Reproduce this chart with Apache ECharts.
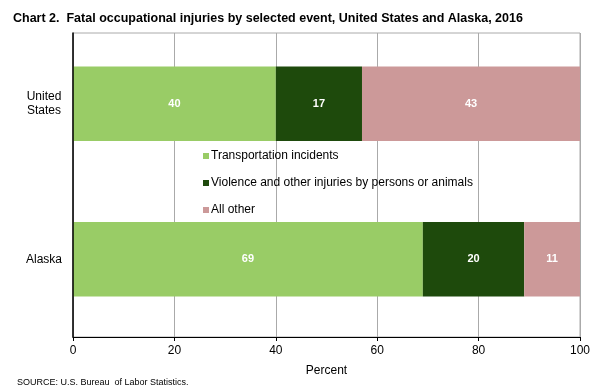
<!DOCTYPE html>
<html><head><meta charset="utf-8">
<script src="https://cdn.jsdelivr.net/npm/echarts@6/dist/echarts.min.js"></script>
<style>html,body{margin:0;padding:0;background:#fff}#c{width:600px;height:389px}</style>
</head><body><div id="c"></div>
<script>
const categories = ['United\nStates', 'Alaska'];
const seriesNames = ['Transportation incidents', 'Violence and other injuries by persons or animals', 'All other'];
const transportation = [40, 69];
const violence = [17, 20];
const allOther = [43, 11];
const xTicks = [0, 20, 40, 60, 80, 100];

const colors = ['#99cc66', '#1e4a0c', '#cc9999'];
const values = [transportation, violence, allOther];
const chart = echarts.init(document.getElementById('c'));
chart.setOption({
  animation: false,
  textStyle: {fontFamily: 'Arial, Liberation Sans, sans-serif'},
  title: [{
    text: 'Chart 2.  Fatal occupational injuries by selected event, United States and Alaska, 2016',
    left: 8, top: 7,
    textStyle: {fontSize: 12.5, fontWeight: 'bold', color: '#000', fontFamily: 'Liberation Sans Narrow, Arial, sans-serif'}
  }, {
    text: 'SOURCE: U.S. Bureau  of Labor Statistics.',
    left: 12, top: 373,
    textStyle: {fontSize: 9, fontWeight: 'normal', color: '#000'}
  }],
  legend: {
    orient: 'vertical', left: 198, top: 145, itemGap: 15,
    itemWidth: 6, itemHeight: 6, icon: 'rect',
    textStyle: {fontSize: 12, color: '#000', padding: [0, 0, 0, -3]},
    data: seriesNames
  },
  grid: [
    {left: 73, right: 20, top: 26, bottom: 52},
    {left: 73, right: 20, top: 33, bottom: 52, show: true, borderColor: '#aaa', borderWidth: 1}
  ],
  xAxis: [{
    type: 'value', min: 0, max: 100, interval: 20, gridIndex: 0,
    name: 'Percent', nameLocation: 'middle', nameGap: 28,
    nameTextStyle: {fontSize: 12, color: '#000'},
    axisLine: {show: true, lineStyle: {color: '#000', width: 1}},
    axisTick: {show: true, length: 4, lineStyle: {color: '#000'}},
    axisLabel: {fontSize: 12, color: '#000', margin: 8},
    splitLine: {show: false}
  }, {
    type: 'value', min: 0, max: 100, interval: 20, gridIndex: 1,
    axisLine: {show: false}, axisTick: {show: false}, axisLabel: {show: false},
    splitLine: {show: true, lineStyle: {color: '#aaa'}}
  }],
  yAxis: [{
    type: 'category', data: categories, inverse: true, gridIndex: 0,
    axisLine: {show: false},
    axisTick: {show: false},
    axisLabel: {fontSize: 12, color: '#000', margin: 29, lineHeight: 14, align: 'center'}
  }, {
    type: 'value', gridIndex: 1, min: 0, max: 1,
    axisLine: {show: true, lineStyle: {color: '#000', width: 1.5}},
    axisTick: {show: false}, axisLabel: {show: false}, splitLine: {show: false},
    z: 5
  }],
  series: seriesNames.map((n, i) => ({
    name: n, type: 'bar', stack: 'a', barWidth: '48%',
    xAxisIndex: 0, yAxisIndex: 0,
    data: values[i],
    itemStyle: {color: colors[i]},
    label: {show: true, position: 'inside', color: '#fff', fontSize: 11, fontWeight: 'bold'}
  }))
});
</script></body></html>
